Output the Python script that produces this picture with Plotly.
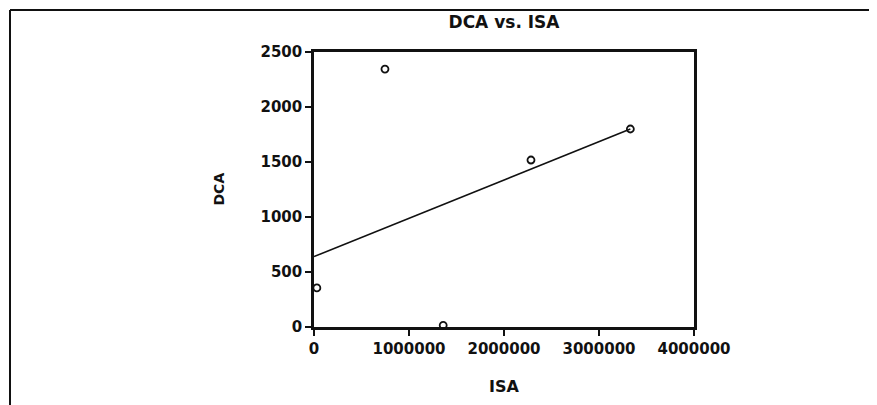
import plotly.graph_objects as go

# data
isa = [30000, 747000, 1360000, 2284000, 3330000]
dca = [355, 2345, 15, 1518, 1800]

# fitted line as drawn in the picture (end points)
fit_isa = [0, 3330000]
fit_dca = [640, 1800]

x_ticks = [0, 1000000, 2000000, 3000000, 4000000]
y_ticks = [0, 500, 1000, 1500, 2000, 2500]

INK = "#111111"
FONT = "DejaVu Sans"

# the page body adds an 8px margin, so size the figure to fit the window
OFF = 8
W, H = 877 - OFF, 405 - OFF
L, R, T, B = 314 - OFF, 183, 52 - OFF, 78
PW, PH = W - L - R, H - T - B


def px_x(v):
    return (v - OFF - L) / PW


def px_y(v):
    return (H + OFF - B - v) / PH


fig = go.Figure()
fig.add_trace(go.Scatter(
    x=fit_isa, y=fit_dca, mode="lines",
    line=dict(color=INK, width=1.6), cliponaxis=False, showlegend=False,
))
fig.add_trace(go.Scatter(
    x=isa, y=dca, mode="markers",
    marker=dict(symbol="circle-open", size=7, color=INK, line=dict(width=1.8, color=INK)),
    cliponaxis=False, showlegend=False,
))

fig.update_layout(
    width=W, height=H,
    margin=dict(l=L, r=R, t=T, b=B),
    paper_bgcolor="white", plot_bgcolor="white",
    font=dict(family=FONT, color=INK, size=14),
    title=dict(text="<b>DCA vs. ISA</b>", x=0.5, xref="paper", y=1 - (22 - OFF) / H,
               yref="container", yanchor="middle", xanchor="center",
               font=dict(size=17, family=FONT, color=INK)),
    annotations=[
        dict(text="<b>DCA</b>", x=px_x(218), y=0.5, xref="paper", yref="paper",
             xanchor="center", yanchor="middle",
             textangle=-90, showarrow=False, font=dict(size=14, family=FONT, color=INK)),
        dict(text="<b>ISA</b>", x=0.5, y=px_y(386), xref="paper", yref="paper",
             xanchor="center", yanchor="middle",
             showarrow=False, font=dict(size=16, family=FONT, color=INK)),
    ],
    shapes=[
        dict(type="line", xref="paper", yref="paper", x0=px_x(10), x1=px_x(872),
             y0=px_y(10), y1=px_y(10), line=dict(color=INK, width=2)),
        dict(type="line", xref="paper", yref="paper", x0=px_x(10), x1=px_x(10),
             y0=px_y(10), y1=px_y(405), line=dict(color=INK, width=2)),
    ],
)

fig.update_xaxes(
    range=[0, 4000000], tickvals=x_ticks, ticktext=[f"<b>{v}</b>" for v in x_ticks],
    showgrid=False, zeroline=False, showline=True, linecolor=INK, linewidth=2.5,
    mirror=True, ticks="outside", ticklen=6, tickwidth=2, tickcolor=INK,
    tickfont=dict(size=15, family=FONT, color=INK),
)
fig.update_yaxes(
    range=[0, 2500], tickvals=y_ticks, ticktext=[f"<b>{v}</b>" for v in y_ticks],
    showgrid=False, zeroline=False, showline=True, linecolor=INK, linewidth=2.5,
    mirror=True, ticks="outside", ticklen=6, tickwidth=2, tickcolor=INK,
    tickfont=dict(size=15, family=FONT, color=INK),
)

fig.write_html("out.html")
